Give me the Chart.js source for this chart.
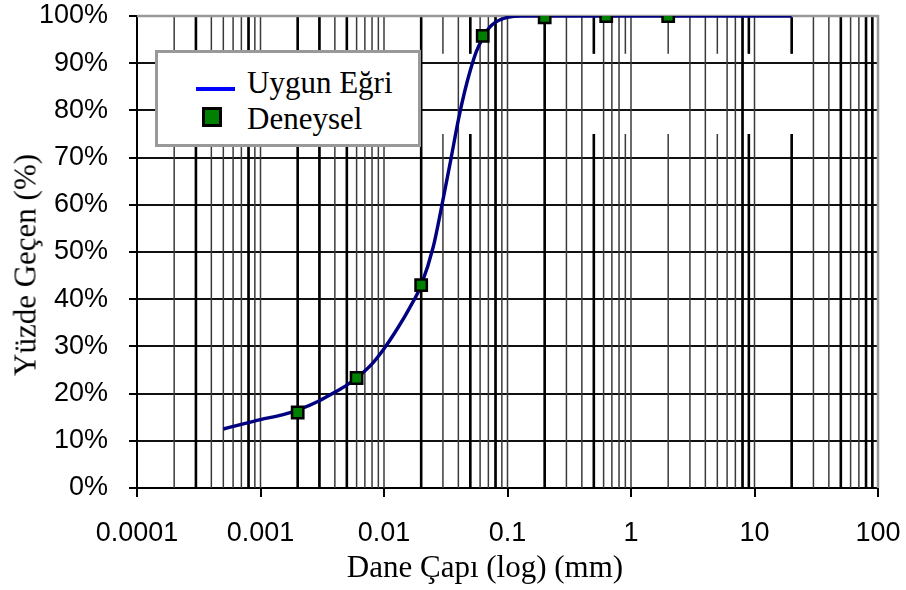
<!DOCTYPE html>
<html>
<head>
<meta charset="utf-8">
<script src="https://cdn.jsdelivr.net/npm/chart.js@4"></script>
<style>
  body { margin: 0; background: #fff; }
  #wrap { position: relative; width: 906px; height: 590px; }
  #grafic { position: absolute; left: 0; top: 0; }
  .serif { position: absolute; font-family: 'Liberation Serif', 'Times New Roman', serif; font-size: 31px; line-height: 31px; color: #000; white-space: nowrap; }
  #legendBox { position: absolute; left: 155px; top: 50px; width: 266px; height: 97px; box-sizing: border-box; border: 3px solid #999; background: #fff; }
  #legLine { position: absolute; left: 196px; top: 87px; width: 39px; height: 4px; background: #0000ff; }
  #legSquare { position: absolute; left: 202px; top: 107px; width: 20px; height: 20px; box-sizing: border-box; border: 3.5px solid #000; background: #008000; }
</style>
</head>
<body>
<div id="wrap">
  <canvas id="grafic" width="906" height="590"></canvas>
  <div id="legendBox"></div>
  <div id="legLine"></div>
  <div id="legSquare"></div>
  <div class="serif" style="left:247px; top:67px;">Uygun Eğri</div>
  <div class="serif" style="left:247px; top:103px;">Deneysel</div>
  <div class="serif" style="left:485px; top:551px; transform:translateX(-50%);">Dane Çapı (log) (mm)</div>
  <div class="serif" style="left:25px; top:265px; transform:translate(-50%,-50%) rotate(-90deg);">Yüzde Geçen (%)</div>
</div>
<script>
let context = document.getElementById('grafic').getContext('2d');

// === fitted curve (Uygun Eğri) ===
const fitSizes   = [0.0005, 0.0007, 0.001, 0.0015, 0.002, 0.003, 0.004, 0.005, 0.006, 0.008, 0.01, 0.013, 0.016, 0.02, 0.025, 0.03, 0.035, 0.04, 0.045, 0.05, 0.056, 0.063, 0.07, 0.08, 0.1, 0.13, 0.2, 1, 20];
const fitPassing = [12.5, 13.5, 14.5, 15.5, 16.5, 18.5, 20.3, 21.8, 23.3, 26.3, 29.5, 34, 38, 43, 51, 61, 70, 78, 84, 88.5, 92.5, 95.3, 97.3, 98.7, 99.7, 100, 100, 100, 100];

// === measured points (Deneysel) ===
const testSizes   = [0.002, 0.006, 0.02, 0.063, 0.2, 0.63, 2];
const testPassing = [16, 23.3, 43, 95.8, 99.7, 100, 100];

// axis ticks
const xTickValues = [0.0001, 0.001, 0.01, 0.1, 1, 10, 100];
const xTickLabels = ['0.0001', '0.001', '0.01', '0.1', '1', '10', '100'];
const yTickValues = [0, 10, 20, 30, 40, 50, 60, 70, 80, 90, 100];

// vertical lines on the log grid
const decades = [0.0001, 0.001, 0.01, 0.1, 1, 10];
const minorLines = decades.flatMap(d => [1, 2, 3, 4, 5, 6, 7, 8, 9].map(k => k * d)).filter(v => v > 0.0001);
const heavyLines = [0.0003, 0.0008, 0.002, 0.003, 0.005, 0.02, 0.05, 0.08, 0.2, 0.5, 8, 9, 20, 50, 80, 90];
const splitLines = [0.03, 0.05, 0.5, 0.9, 2, 5, 9, 20];

const sameValue = (a, b) => Math.abs(Math.log10(a) - Math.log10(b)) < 1e-6;

const verticalGrid = {
    id: 'verticalGrid',
    beforeDatasetsDraw(chart) {
        const { ctx, chartArea: a, scales: { x, y } } = chart;
        const gapLow = y.getPixelForValue(75);
        const gapHigh = y.getPixelForValue(92);

        const drawLine = (v, width, color) => {
            const px = x.getPixelForValue(v);
            const parts = splitLines.some(s => sameValue(s, v))
                ? [[a.bottom, gapLow], [gapHigh, a.top]]
                : [[a.bottom, a.top]];
            ctx.lineWidth = width;
            ctx.strokeStyle = color;
            parts.forEach(([y0, y1]) => {
                ctx.beginPath();
                ctx.moveTo(px, y0);
                ctx.lineTo(px, y1);
                ctx.stroke();
            });
        };

        ctx.save();
        minorLines.forEach(v => drawLine(v, 1.5, '#3a3a3a'));
        heavyLines.forEach(v => drawLine(v, 2.6, '#000'));

        // grey frame on top and right
        ctx.strokeStyle = '#999';
        ctx.lineWidth = 2.5;
        ctx.beginPath();
        ctx.moveTo(a.left, a.top);
        ctx.lineTo(a.right, a.top);
        ctx.lineTo(a.right, a.bottom);
        ctx.stroke();
        ctx.restore();
    }
};

const tickFont = { family: "'Liberation Sans', Arial, sans-serif", size: 27 };

new Chart(context, {
    type: 'line',
    data: {
        datasets: [
            {
                label: 'Deneysel',
                data: testSizes.map((s, i) => ({ x: s, y: testPassing[i] })),
                showLine: false,
                pointStyle: 'rect',
                pointRadius: 8,
                pointBorderWidth: 2.5,
                pointBackgroundColor: '#008000',
                pointBorderColor: '#000',
                order: 0
            },
            {
                label: 'Uygun Eğri',
                data: fitSizes.map((s, i) => ({ x: s, y: fitPassing[i] })),
                borderColor: '#000080',
                borderWidth: 3.4,
                cubicInterpolationMode: 'monotone',
                pointRadius: 0,
                fill: false,
                order: 1
            }
        ]
    },
    options: {
        responsive: false,
        animation: false,
        layout: { padding: { top: 16, right: 28, left: 0, bottom: 0 } },
        plugins: {
            legend: { display: false },
            tooltip: { enabled: false }
        },
        scales: {
            x: {
                type: 'logarithmic',
                min: 0.0001,
                max: 100,
                afterBuildTicks: scale => { scale.ticks = xTickValues.map(v => ({ value: v })); },
                afterFit: scale => {
                    scale.height = 102;
                    scale.paddingLeft = 0;
                    scale.paddingRight = 0;
                },
                ticks: {
                    autoSkip: false,
                    maxRotation: 0,
                    padding: 20,
                    color: '#000',
                    font: tickFont,
                    callback: (value, index) => xTickLabels[index]
                },
                grid: {
                    drawOnChartArea: false,
                    drawTicks: true,
                    tickLength: 9,
                    color: '#000',
                    lineWidth: 2
                },
                border: { color: '#000', width: 2 }
            },
            y: {
                min: 0,
                max: 100,
                afterBuildTicks: scale => { scale.ticks = yTickValues.map(v => ({ value: v })); },
                afterFit: scale => {
                    scale.width = 137;
                    scale.paddingTop = 0;
                    scale.paddingBottom = 0;
                },
                ticks: {
                    padding: 21,
                    color: '#000',
                    font: tickFont,
                    callback: value => value + '%'
                },
                grid: {
                    color: ctx => ctx.tick && ctx.tick.value === 100 ? '#999' : '#111',
                    tickColor: '#000',
                    lineWidth: 2,
                    tickLength: 8
                },
                border: { color: '#000', width: 2 }
            }
        }
    },
    plugins: [verticalGrid]
});
</script>
</body>
</html>
